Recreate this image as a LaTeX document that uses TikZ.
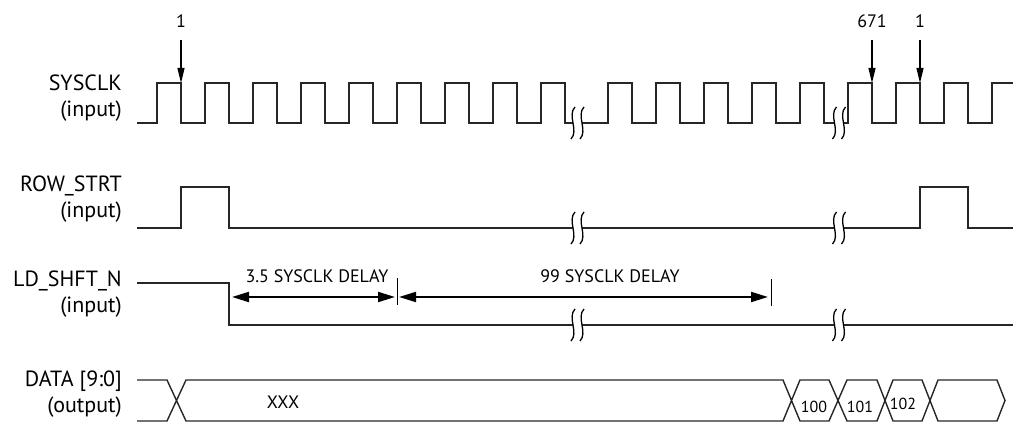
\documentclass[tikz,border=0pt]{standalone}
\usepackage{fontspec}
\setmainfont{PT Sans}
\usetikzlibrary{arrows.meta}
\begin{document}
\begin{tikzpicture}[x=1pt,y=-1pt,
  wave/.style={line width=1.4pt, draw=black!85, line join=miter},
  lbl/.style={anchor=base east, inner sep=0pt, font=\fontsize{22}{26}\selectfont},
  small/.style={anchor=base, inner sep=0pt, font=\fontsize{18}{21}\selectfont},
  hexlbl/.style={anchor=base, inner sep=0pt, font=\fontsize{16}{19}\selectfont},
  tickarr/.style={line width=1.2pt, -{Triangle[length=15pt,width=7pt]}},
  dimarr/.style={line width=2pt, {Triangle[length=17pt,width=10pt]}-{Triangle[length=17pt,width=10pt]}},
  tickline/.style={line width=1pt},
  brk/.pic={
    \fill[white] (-4.5,-2.5) rectangle (4.5,2.5);
    \draw[line width=1.3pt] (-2.5,-16) .. controls (-10.5,-8) and (1.5,8) .. (-6.5,16);
    \draw[line width=1.3pt] (6.5,-16) .. controls (-1.5,-8) and (10.5,8) .. (2.5,16);
  }
]
\useasboundingbox (0,0) rectangle (1013,428);

% signal labels
\node[lbl] (s1a) at (122,91) {SYSCLK};
\node[lbl] (s1b) at (122,117) {(input)};
\node[lbl] (s2a) at (122,191) {ROW\_STRT};
\node[lbl] (s2b) at (122,217) {(input)};
\node[lbl] (s3a) at (122,286) {LD\_SHFT\_N};
\node[lbl] (s3b) at (122,312) {(input)};
\node[lbl] (s4a) at (122,386) {DATA [9:0]};
\node[lbl] (s4b) at (122,412) {(output)};

% SYSCLK
\draw[wave] (137,123)
  foreach \k in {0,...,8} { -- ({157+48*\k},123) -- ({157+48*\k},83) -- ({181+48*\k},83) -- ({181+48*\k},123) }
  foreach \k in {0,...,4} { -- ({608+48*\k},123) -- ({608+48*\k},83) -- ({632+48*\k},83) -- ({632+48*\k},123) }
  foreach \k in {0,...,2} { -- ({848+48*\k},123) -- ({848+48*\k},83) -- ({872+48*\k},83) -- ({872+48*\k},123) }
  -- (992,123) -- (992,83) -- (1013,83);

% ROW_STRT
\draw[wave] (137,228) -- (181,228) -- (181,187) -- (229,187) -- (229,228)
  -- (920,228) -- (920,187) -- (968,187) -- (968,228) -- (1013,228);

% LD_SHFT_N
\draw[wave] (137,283) -- (229,283) -- (229,325) -- (1013,325);

% DATA bus
\draw[wave] (137,380) -- (167,380) -- (186,421) -- (783,421) -- (800,380) -- (829,380)
  -- (847,421) -- (877,421) -- (893,380) -- (922,380) -- (938,421) -- (997,421)
  -- (1005,400.5) -- (997,380) -- (938,380) -- (922,421) -- (893,421) -- (877,380)
  -- (847,380) -- (829,421) -- (800,421) -- (783,380) -- (186,380) -- (167,421) -- (137,421);

% breaks
\foreach \yy in {123,228,325} {
  \pic at (577.5,\yy) {brk};
  \pic at (839,\yy) {brk};
}

% clock edge markers
\node[small] (m1) at (181,28) {1};
\node[small] (m2) at (872,28) {671};
\node[small] (m3) at (920,28) {1};
\coordinate (e1) at (181,83);
\coordinate (e2) at (872,83);
\coordinate (e3) at (920,83);
\draw[tickarr, shorten <=12pt] (m1.south) -- (e1);
\draw[tickarr, shorten <=12pt] (m2.south) -- (e2);
\draw[tickarr, shorten <=12pt] (m3.south) -- (e3);

% delay dimensions
\coordinate (t1a) at (397,278);
\coordinate (t1b) at (397,305);
\coordinate (t2a) at (771,279);
\coordinate (t2b) at (771,306);
\draw[tickline] (t1a) -- (t1b);
\draw[tickline] (t2a) -- (t2b);
\coordinate (a1) at (232,297);
\coordinate (a2) at (395,297);
\coordinate (a3) at (399,297);
\coordinate (a4) at (768,297);
\draw[dimarr] (a1) -- (a2);
\draw[dimarr] (a3) -- (a4);
\node[small] (d1) at (317,282) {3.5 SYSCLK DELAY};
\node[small] (d2) at (610,282) {99 SYSCLK DELAY};

% data values
\node[small] (v0) at (283,408) {XXX};
\node[hexlbl] (v1) at (814,412) {100};
\node[hexlbl] (v2) at (860,412) {101};
\node[hexlbl] (v3) at (903,409) {102};
\end{tikzpicture}
\end{document}
